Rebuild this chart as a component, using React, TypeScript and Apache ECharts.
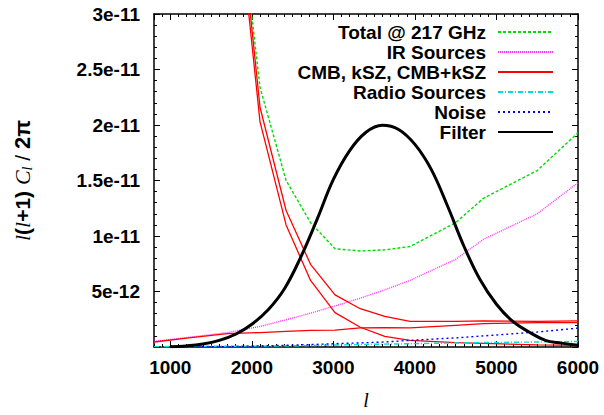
import React, { useEffect, useRef } from 'react';
import * as echarts from 'echarts';

// multipole bins (l) for the binned power spectra
const ell = [800, 1200, 1700, 2100, 2420, 2720, 3020, 3330, 3630, 3940, 4500, 4840, 5500, 6000];
// values in units of 1e-12 (l(l+1)C_l/2pi)
const total217 = [null, null, 49, 23.4, 15.0, 11.2, 8.85, 8.65, 8.75, 9.05, 11.2, 13.4, 15.9, 19.3];
const irSources = [0.5, 0.85, 1.3, 1.85, 2.45, 3.05, 3.7, 4.4, 5.15, 6.0, 7.9, 9.7, 12.0, 14.8];
const cmbPlusKsz = [null, null, 50, 21.6, 12.3, 7.45, 4.7, 3.45, 2.75, 2.3, 2.3, 2.35, 2.3, 2.35];
const cmb = [null, null, 48.5, 20.3, 11.0, 6.0, 3.1, 1.78, 0.95, 0.6, 0.4, 0.32, 0.2, 0.15];
const ksz = [0.45, 0.8, 1.2, 1.3, 1.4, 1.5, 1.52, 1.72, 1.75, 1.72, 1.95, 2.1, 2.2, 2.2];
const radioSources = [0.03, 0.05, 0.07, 0.08, 0.1, 0.13, 0.18, 0.22, 0.26, 0.3, 0.36, 0.4, 0.45, 0.5];
const noise = [null, 0.01, 0.03, 0.1, 0.15, 0.22, 0.3, 0.37, 0.45, 0.6, 0.82, 1.0, 1.35, 1.7];

// filter curve
const filterEll = [1000, 1200, 1400, 1600, 1800, 2000, 2200, 2400, 2600, 2800, 3000, 3200, 3400, 3600, 3800, 4000, 4200, 4400, 4600, 4800, 5000, 5200, 5400, 5600, 5800, 6000];
const filterVal = [0.03, 0.1, 0.27, 0.6, 1.15, 2.05, 3.35, 5.25, 8.1, 11.5, 15.1, 17.7, 19.35, 19.98, 19.6, 18.25, 16.0, 12.7, 9.1, 6.05, 3.85, 2.3, 1.35, 0.6, 0.35, 0.15];

const legendNames = ['Total @ 217 GHz', 'IR Sources', 'CMB, kSZ, CMB+kSZ', 'Radio Sources', 'Noise', 'Filter'];

const FONT = "'Liberation Sans', Arial, Helvetica, sans-serif";
const SERIF = "'Liberation Serif', 'Times New Roman', serif";

function pairs(xs: number[], ys: (number | null)[]) {
  const out: number[][] = [];
  xs.forEach((x, i) => {
    const y = ys[i];
    if (y !== null && y !== undefined) out.push([x, y]);
  });
  return out;
}

function fmtY(v: number) {
  if (v === 0) return '';
  const x = Number((v * 1e-12).toPrecision(3));
  return x.toExponential();
}

export default function App() {
  const ref = useRef<HTMLDivElement>(null);
  useEffect(() => {
    const chart = echarts.init(ref.current!, null, { renderer: 'svg' });
    const axisLine = { show: true, onZero: false, lineStyle: { color: '#000', width: 1.5 } };
    const majorTick = { show: true, inside: true, length: 6, lineStyle: { color: '#000', width: 1 } };
    const minorTickX = { show: true, inside: true, length: 3, lineStyle: { color: '#000', width: 1 } };
    const xBase = { type: 'value', min: 800, max: 6000, gridIndex: 0, splitLine: { show: false } };
    const yBase = {
      type: 'value', min: 0, max: 30, interval: 5, gridIndex: 0, splitLine: { show: false },
      minorTick: { show: true, splitNumber: 5, length: 3, lineStyle: { color: '#000', width: 1 } },
      axisLine, axisTick: majorTick,
    };
    const line = (name: string, xs: number[], ys: (number | null)[], color: string, width: number, type: any, z = 2) => ({
      type: 'line', name, data: pairs(xs, ys), symbol: 'none', showSymbol: false,
      xAxisIndex: 0, yAxisIndex: 0, clip: true, z,
      lineStyle: { color, width, type }, itemStyle: { color },
    });
    chart.setOption({
      animation: false,
      backgroundColor: '#fff',
      grid: { left: 154, right: 26, top: 14, bottom: 58, containLabel: false },
      legend: {
        data: legendNames, orient: 'vertical', align: 'right', right: 50, top: 22,
        itemWidth: 55, itemHeight: 14, itemGap: 0, padding: 0, selectedMode: false,
        itemStyle: { opacity: 0 },
        textStyle: { fontFamily: FONT, fontWeight: 'bold', fontSize: 19, color: '#000', lineHeight: 20, padding: [0, 7, 0, 0] },
      },
      xAxis: [
        {
          ...xBase, position: 'bottom', splitNumber: 5, axisLine, axisTick: majorTick,
          axisLabel: { show: true, showMinLabel: false, margin: 11, color: '#000', fontFamily: FONT, fontWeight: 'bold', fontSize: 19, formatter: (v: number) => String(v) },
          name: 'l', nameLocation: 'middle', nameGap: 43,
          nameTextStyle: { fontFamily: SERIF, fontStyle: 'italic', fontSize: 20, color: '#000' },
        },
        { ...xBase, position: 'bottom', interval: 100, axisLine: { show: false, onZero: false }, axisTick: minorTickX, axisLabel: { show: false } },
        { ...xBase, position: 'top', splitNumber: 5, axisLine, axisTick: majorTick, axisLabel: { show: false } },
        { ...xBase, position: 'top', interval: 100, axisLine: { show: false, onZero: false }, axisTick: minorTickX, axisLabel: { show: false } },
      ],
      yAxis: [
        {
          ...yBase, position: 'left',
          axisLabel: { show: true, margin: 14, color: '#000', fontFamily: FONT, fontWeight: 'bold', fontSize: 19, formatter: fmtY },
          name: '{i|l}{b|(}{i|l}{b|+1)} {c|C}{s|l}{n| / }{p|2π}',
          nameLocation: 'middle', nameRotate: 90, nameGap: 120,
          nameTextStyle: {
            fontFamily: FONT, fontSize: 21, color: '#000',
            rich: {
              i: { fontFamily: SERIF, fontStyle: 'italic', fontSize: 22, color: '#000' },
              b: { fontFamily: FONT, fontWeight: 'bold', fontSize: 21, color: '#000' },
              c: { fontFamily: SERIF, fontStyle: 'italic', fontSize: 22, color: '#000' },
              s: { fontFamily: SERIF, fontStyle: 'italic', fontSize: 14, color: '#000', verticalAlign: 'bottom', padding: [9, 0, 0, 0] },
              n: { fontFamily: FONT, fontSize: 21, color: '#000' },
              p: { fontFamily: FONT, fontWeight: 'bold', fontSize: 22, color: '#000' },
            },
          },
        },
        { ...yBase, position: 'right', axisLabel: { show: false } },
      ],
      series: [
        line('Total @ 217 GHz', ell, total217, '#00dd00', 1.4, [3, 2]),
        line('IR Sources', ell, irSources, '#ff33ff', 1.4, [1, 1]),
        line('CMB, kSZ, CMB+kSZ', ell, cmbPlusKsz, '#ff0000', 1.3, 'solid'),
        line('CMB', ell, cmb, '#ff0000', 1.3, 'solid'),
        line('kSZ', ell, ksz, '#ff0000', 1.3, 'solid'),
        line('Radio Sources', ell, radioSources, '#00dddd', 1.4, [5, 2, 1, 2]),
        line('Noise', ell, noise, '#0000ff', 1.4, [2, 3]),
        line('Filter', filterEll, filterVal, '#000000', 3, 'solid', 3),
      ].map((s: any) => (s.name === 'Filter' ? { ...s, smooth: 0.4 } : s)),
    });
    return () => chart.dispose();
  }, []);
  return <div ref={ref} style={{ position: 'fixed', left: 0, top: 0, width: 604, height: 415 }} />;
}
